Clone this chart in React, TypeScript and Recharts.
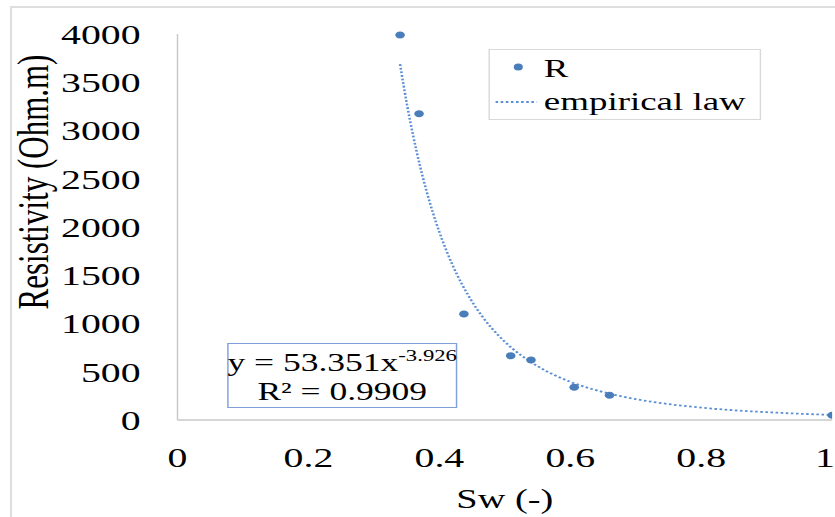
import React from 'react';
import { ComposedChart, XAxis, YAxis, Scatter, Line } from 'recharts';

// measured points (Sw, resistivity)
const swValues = [0.34, 0.369, 0.4375, 0.509, 0.54, 0.606, 0.66, 1.0];
const resistivity = [3990, 3174, 1098, 666, 622, 339, 256, 49];

// empirical law curve
const trendSw = [0.34, 0.35, 0.36, 0.37, 0.38, 0.4, 0.42, 0.45, 0.48, 0.5, 0.55, 0.6, 0.65, 0.7, 0.75, 0.8, 0.85, 0.9, 0.95, 1.0];
const trendR = [3687, 3290, 2946, 2646, 2383, 1948, 1608, 1227, 952, 811, 558, 396, 290, 216, 165, 128, 101, 81, 65, 53];

const xTicks = [0, 0.2, 0.4, 0.6, 0.8, 1];
const yTicks = [0, 500, 1000, 1500, 2000, 2500, 3000, 3500, 4000];

const points = swValues.map((x, i) => ({ x, y: resistivity[i] }));
const trend = trendSw.map((x, i) => ({ x, y: trendR[i] }));

// the original picture is stretched sideways
const SX = 1.42;
const W = 588;
const H = 517;
const FONT = '"Liberation Serif", "Times New Roman", serif';
const DOT = '#4a7ebb';
const TREND = '#5b8fd4';

const Dot = (props: any) => <ellipse cx={props.cx} cy={props.cy} rx={3.4} ry={3.5} fill={DOT} />;

export default function App() {
    return (
        <div style={{ position: 'fixed', left: 0, top: 0, width: 835, height: 517, overflow: 'hidden', background: '#fff' }}>
            <div
                style={{
                    position: 'absolute',
                    left: 10,
                    top: 6,
                    width: 900,
                    height: 600,
                    borderTop: '2px solid #dedede',
                    borderLeft: '2px solid #dedede',
                }}
            />
            <div style={{ position: 'absolute', left: 0, top: 0, width: W, height: H, transform: `scaleX(${SX})`, transformOrigin: '0 0' }}>
                <ComposedChart width={W} height={H} margin={{ top: 34, right: 2, left: 0, bottom: 0 }}>
                    <XAxis
                        type="number"
                        dataKey="x"
                        domain={[0, 1]}
                        ticks={xTicks}
                        tickFormatter={(v: number) => String(v)}
                        tick={{ fontSize: 28, fill: '#000', fontFamily: FONT }}
                        tickLine={false}
                        tickSize={0}
                        tickMargin={27}
                        axisLine={{ stroke: '#c8c8c8', strokeWidth: 1.3 }}
                        height={97}
                        allowDataOverflow
                        label={{ value: 'Sw (-)', position: 'insideBottom', offset: 9, fontSize: 27, fill: '#000', fontFamily: FONT }}
                    />
                    <YAxis
                        type="number"
                        domain={[0, 4000]}
                        ticks={yTicks}
                        tick={{ fontSize: 28, fill: '#000', fontFamily: FONT }}
                        tickLine={false}
                        tickSize={0}
                        tickMargin={26}
                        axisLine={{ stroke: '#c8c8c8', strokeWidth: 1 }}
                        width={125}
                        label={{
                            content: () => (
                                <text
                                    x={23}
                                    y={182}
                                    transform="rotate(-90 23 182)"
                                    textAnchor="middle"
                                    dominantBaseline="central"
                                    fontSize={31}
                                    fontFamily={FONT}
                                    fill="#000"
                                >
                                    Resistivity (Ohm.m)
                                </text>
                            ),
                        }}
                    />
                    <Line
                        data={trend}
                        dataKey="y"
                        type="monotone"
                        stroke={TREND}
                        strokeWidth={1.8}
                        strokeDasharray="1.8 1.8"
                        dot={false}
                        activeDot={false}
                        isAnimationActive={false}
                    />
                    <Scatter data={points} dataKey="y" fill={DOT} shape={<Dot />} isAnimationActive={false} />
                </ComposedChart>

                {/* legend box */}
                <div
                    style={{
                        position: 'absolute',
                        left: 344,
                        top: 49,
                        width: 192,
                        height: 71,
                        border: '1px solid #d9d9d9',
                        boxSizing: 'border-box',
                        background: '#fff',
                    }}
                >
                    <svg width={192} height={71} style={{ position: 'absolute', left: -1, top: -1 }}>
                        <ellipse cx={21} cy={18} rx={3.2} ry={3.5} fill={DOT} />
                        <text x={39} y={28} fontSize={26} fontFamily={FONT} fill="#000">R</text>
                        <line x1={5} y1={53} x2={34} y2={53} stroke={TREND} strokeWidth={1.8} strokeDasharray="1.8 1.8" />
                        <text x={39} y={61} fontSize={26} fontFamily={FONT} fill="#000">empirical law</text>
                    </svg>
                </div>

                {/* equation box */}
                <div
                    style={{
                        position: 'absolute',
                        left: 160,
                        top: 343,
                        width: 162,
                        height: 65,
                        border: '1px solid #7f9fd8',
                        boxSizing: 'border-box',
                        background: '#fff',
                    }}
                >
                    <svg width={162} height={65} style={{ position: 'absolute', left: -1, top: -1 }}>
                        <text x={81} y={28} textAnchor="middle" fontSize={25} fontFamily={FONT} fill="#000">
                            y = 53.351x
                            <tspan dy={-10} fontSize={16}>-3.926</tspan>
                        </text>
                        <text x={81} y={57} textAnchor="middle" fontSize={25} fontFamily={FONT} fill="#000">
                            R² = 0.9909
                        </text>
                    </svg>
                </div>
            </div>
        </div>
    );
}
